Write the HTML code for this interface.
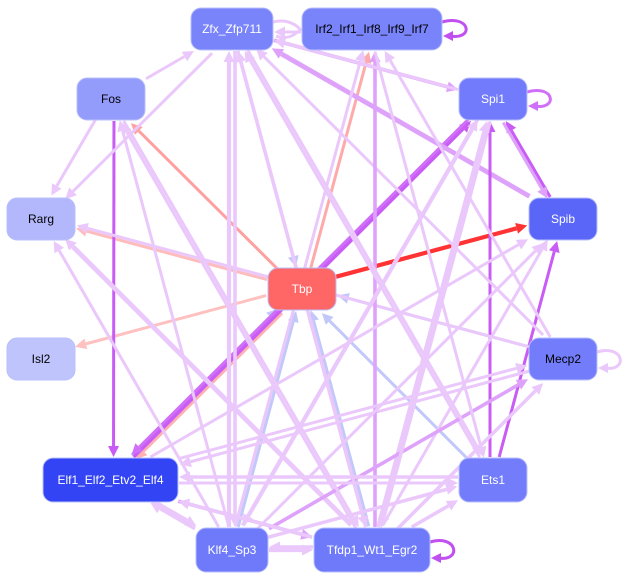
<!DOCTYPE html>
<html><head><meta charset="utf-8"><style>
body{margin:0;background:#fff;width:629px;height:581px;overflow:hidden}
svg{display:block}
text{font-family:"Liberation Sans",sans-serif;font-size:12px;text-anchor:middle;dominant-baseline:central}
</style></head><body>
<svg id="s" width="629" height="581" xmlns="http://www.w3.org/2000/svg">
<g id="e"></g><g id="n"></g>
</svg>
<script>
var N={
Zfx:[191,8,82,42,"#7a84fa","Zfx_Zfp711","#fff"],
Irf:[302,8,140,42,"#7a84fa","Irf2_Irf1_Irf8_Irf9_Irf7","#000"],
Fos:[77,78,68,42,"#939bfb","Fos","#000"],
Spi1:[459,78,68,42,"#717bfb","Spi1","#fff"],
Rarg:[7,198,68,42,"#b3b8fc","Rarg","#000"],
Spib:[529,198,68,42,"#5a66f8","Spib","#fff"],
Tbp:[268,268,68,42,"#ff6666","Tbp","#fff"],
Isl2:[7,338,68,42,"#c0c4fc","Isl2","#000"],
Mecp2:[529,338,68,42,"#737dfb","Mecp2","#000"],
Elf:[43,458,135,44,"#3344f5","Elf1_Elf2_Etv2_Elf4","#fff"],
Ets1:[459,458,68,44,"#737dfb","Ets1","#fff"],
Klf4:[196,528,72,44,"#6f7afb","Klf4_Sp3","#fff"],
Tfdp1:[314,528,116,44,"#6f7afb","Tfdp1_Wt1_Egr2","#fff"]};
var L="#ebc8fb",M="#dea2fb",S="#c85cf5",P="#ffb0b0",B="#c2c8fa";
var E=[
["Tbp","Spib","#ff3333",3.5],["Tbp","Spi1","#ff9090",2.5],["Tbp","Irf","#ffaaaa",2.5],["Tbp","Fos","#ffa0a0",2.5],
["Tbp","Rarg","#ffbcbc",2.5],["Tbp","Isl2","#ffc0c0",2.5],["Tbp","Elf",P,2.5],
["Zfx","Tbp",B,2.5],["Mecp2","Tbp",B,2.5],["Ets1","Tbp",B,2.5],["Klf4","Tbp",B,2.5],["Tfdp1","Tbp",B,2.5],["Elf","Tbp",B,2],
["Elf","Spi1",S,3],["Spi1","Elf","#d070f8",2.5],["Fos","Elf",S,2.5],
["Fos","Zfx",L,2.5],["Fos","Rarg",L,2.5],["Zfx","Rarg",L,2.5],["Zfx","Spi1",M,3],["Spib","Zfx",M,4],["Irf","Zfx",L,2.5],
["Spib","Spi1",S,2.5],["Spi1","Spib",M,2.5],["Ets1","Spi1",S,2.5],["Ets1","Spib",S,2.5],
["Mecp2","Rarg",L,2.5],["Mecp2","Elf",L,2.5],["Mecp2","Irf",L,2.5],["Mecp2","Zfx",L,2.5],
["Klf4","Zfx",L,3.5],["Tfdp1","Zfx",L,3],["Tfdp1","Irf",M,3],["Klf4","Irf",L,2.5],["Ets1","Zfx",L,2.5],
["Klf4","Fos",L,2.5],["Tfdp1","Fos",L,2.5],["Klf4","Rarg",L,2.5],["Tfdp1","Rarg",L,4],
["Klf4","Spi1",L,3.5],["Tfdp1","Spi1",L,3.5],["Klf4","Spib",L,2.5],["Tfdp1","Spib",L,2.5],
["Klf4","Mecp2",M,3],["Tfdp1","Mecp2",L,3],["Elf","Mecp2",L,2.5],["Elf","Spib",L,2.5],["Ets1","Elf",L,3],
["Elf","Klf4",L,3.5],["Klf4","Elf",L,3],["Elf","Tfdp1",M,3],["Tfdp1","Elf",L,3],["Klf4","Tfdp1",L,3.5],["Tfdp1","Klf4",L,3],
["Klf4","Ets1",L,3],["Tfdp1","Ets1",L,3],["Elf","Ets1",L,2.5],["Zfx","Klf4",L,3],["Zfx","Tfdp1",L,2.5],
["Spi1","Klf4",L,3],["Spi1","Tfdp1",L,3],["Fos","Tfdp1",L,2.5],["Irf","Ets1",L,2.5],["Zfx","Ets1",L,2.5],["Spi1","Zfx",L,2.5]];
function C(k){var r=N[k];return[r[0]+r[2]/2,r[1]+r[3]/2]}
function clip(k,dx,dy){var r=N[k],hw=r[2]/2+1,hh=r[3]/2+1;var t=Math.min(dx?hw/Math.abs(dx):1e9,dy?hh/Math.abs(dy):1e9);return t}
var g=document.getElementById("e"),h="";
E.forEach(function(e,i){var a=C(e[0]),b=C(e[1]);var off=(i%3-1)*3;var dx=b[0]-a[0],dy=b[1]-a[1],len=Math.hypot(dx,dy);
var nx=-dy/len*off,ny=dx/len*off;
var t0=clip(e[0],dx,dy),t1=clip(e[1],dx,dy);
var x0=a[0]+dx*t0+nx,y0=a[1]+dy*t0+ny,x1=b[0]-dx*t1+nx,y1=b[1]-dy*t1+ny;
var w=e[3]*1.2;
var ux=dx/len,uy=dy/len,al=11,aw=5.5;var bx=x1-ux*al,by=y1-uy*al;
h+='<line x1="'+x0+'" y1="'+y0+'" x2="'+bx+'" y2="'+by+'" stroke="'+e[2]+'" stroke-width="'+w+'"/>';
h+='<polygon points="'+x1+','+y1+' '+(bx-uy*aw)+','+(by+ux*aw)+' '+(bx+uy*aw)+','+(by-ux*aw)+'" fill="'+e[2]+'"/>';});
h+='<path d="M442,22 C470,14 475,40 450,36" fill="none" stroke="#c050f0" stroke-width="3"/><polygon points="443,36 453,31 453,41" fill="#c050f0"/>';
h+='<path d="M527,92 C555,84 558,110 535,106" fill="none" stroke="#d070f8" stroke-width="3"/><polygon points="528,106 538,101 538,111" fill="#d070f8"/>';
h+='<path d="M597,352 C625,344 628,372 605,368" fill="none" stroke="'+L+'" stroke-width="3"/><polygon points="598,368 608,363 608,373" fill="'+L+'"/>';
h+='<path d="M430,542 C458,534 462,562 438,558" fill="none" stroke="#c050f0" stroke-width="3"/><polygon points="431,558 441,553 441,563" fill="#c050f0"/>';
h+='<path d="M273,22 C290,18 300,28 300,30 C290,40 280,38 276,36" fill="none" stroke="'+L+'" stroke-width="3"/>';
g.innerHTML=h;
var n="";for(var k in N){var r=N[k];n+='<rect x="'+r[0]+'" y="'+r[1]+'" width="'+r[2]+'" height="'+r[3]+'" rx="10" fill="'+r[4]+'" stroke="#b8bffb" stroke-width="1"/><text x="'+(r[0]+r[2]/2)+'" y="'+(r[1]+r[3]/2)+'" fill="'+r[6]+'">'+r[5]+'</text>';}
document.getElementById("n").innerHTML=n;
</script>
</body></html>
